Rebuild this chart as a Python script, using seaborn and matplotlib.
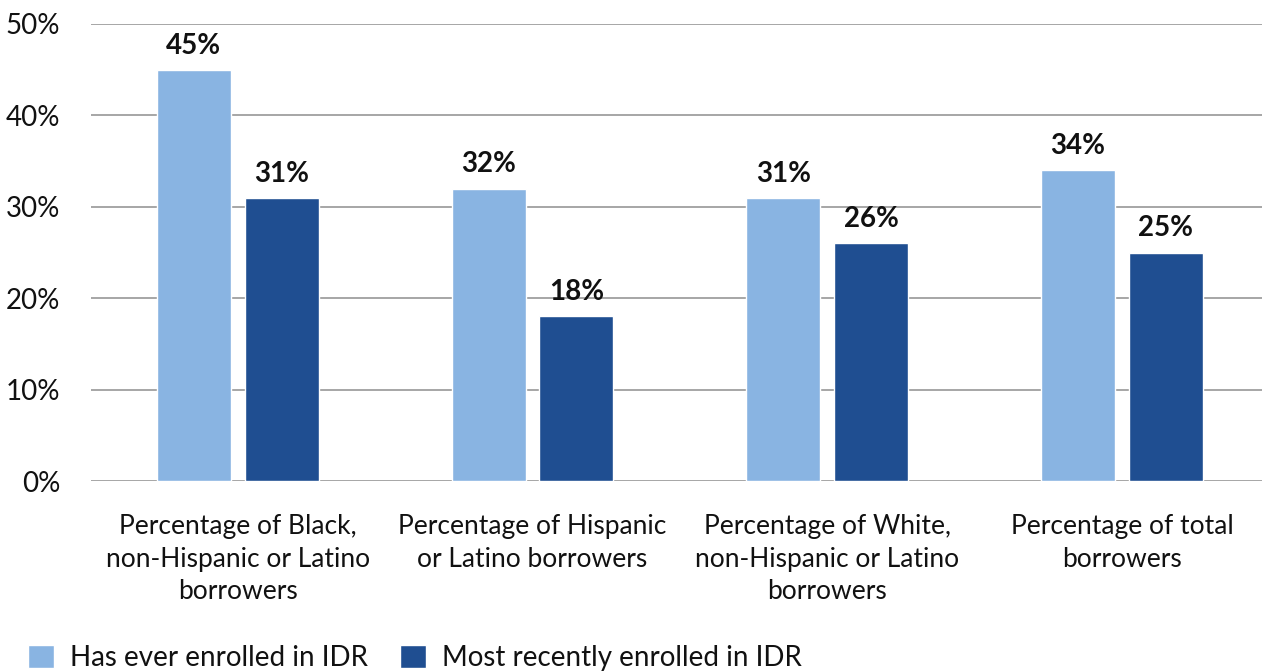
import matplotlib
matplotlib.use("Agg")
import matplotlib.pyplot as plt
import seaborn as sns
import pandas as pd

categories = [
    "Percentage of Black,\nnon-Hispanic or Latino\nborrowers",
    "Percentage of Hispanic\nor Latino borrowers",
    "Percentage of White,\nnon-Hispanic or Latino\nborrowers",
    "Percentage of total\nborrowers",
]
series_names = ["Has ever enrolled in IDR", "Most recently enrolled in IDR"]
ever_enrolled = [45, 32, 31, 34]
recently_enrolled = [31, 18, 26, 25]
y_ticks = [0, 10, 20, 30, 40, 50]
y_tick_labels = ["0%", "10%", "20%", "30%", "40%", "50%"]
colors = ["#89B4E2", "#1F4E91"]

df = pd.DataFrame({
    "category": categories * 2,
    "series": [series_names[0]] * 4 + [series_names[1]] * 4,
    "value": ever_enrolled + recently_enrolled,
})

sns.set_theme(style="white")
plt.rcParams["font.family"] = ["Lato", "DejaVu Sans"]

fig = plt.figure(figsize=(12.62, 6.72), dpi=100)
ax = fig.add_axes([91 / 1262, 1 - 481 / 672, 1 - 91 / 1262, (481 - 24) / 672])

sns.barplot(data=df, x="category", y="value", hue="series", order=categories,
            hue_order=series_names, palette=colors, width=0.596, gap=0.158,
            saturation=1, ax=ax, legend=True)

for cont in ax.containers:
    ax.bar_label(cont, labels=[f"{v:.0f}%" for v in cont.datavalues],
                 padding=8, fontsize=20, fontweight="bold", color="#111111")

ax.set_ylim(0, 50)
ax.set_xlim(-0.498, 3.475)
ax.set_yticks(y_ticks)
ax.set_yticklabels(y_tick_labels, fontsize=20, color="#111111")
ax.yaxis.grid(True, color="#A6A6A6", linewidth=1.4)
ax.set_axisbelow(True)
for s in ax.spines.values():
    s.set_visible(False)
ax.tick_params(axis="y", length=0, pad=22)
ax.tick_params(axis="x", length=0, pad=24, labelsize=19, labelcolor="#111111")
for lbl in ax.get_xticklabels():
    lbl.set_linespacing(1.36)
ax.set_xlabel("")
ax.set_ylabel("")

leg = ax.legend(loc="lower left", bbox_to_anchor=(-63 / 1171, -190 / 457), ncol=2,
                frameon=False, fontsize=20, handlelength=0.92, handleheight=0.92,
                handletextpad=0.6, columnspacing=1.15, borderaxespad=0,
                borderpad=0)
for t in leg.get_texts():
    t.set_color("#111111")

fig.savefig("out.png", dpi=100)
